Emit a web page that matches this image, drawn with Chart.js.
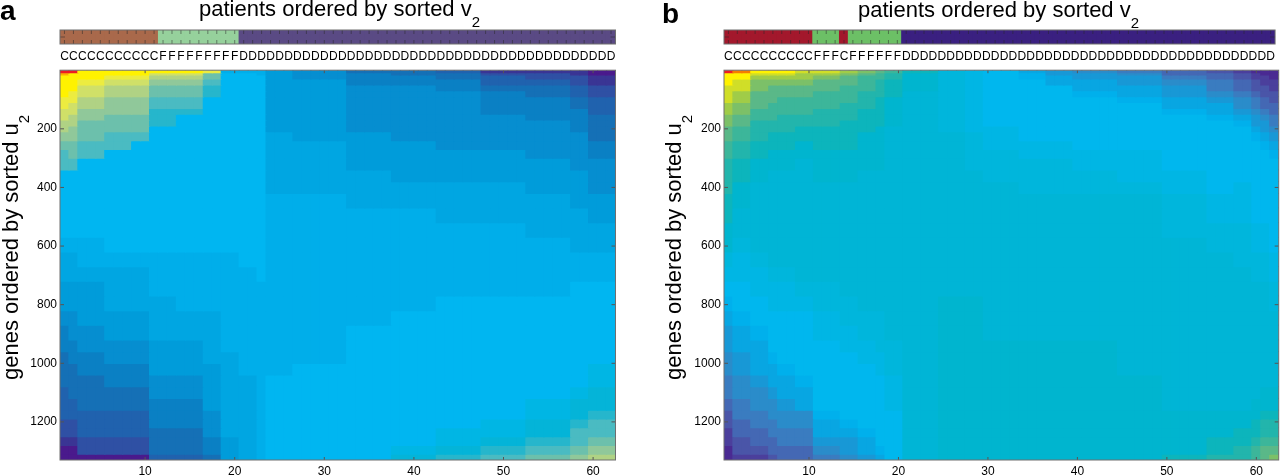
<!DOCTYPE html>
<html>
<head>
<meta charset="utf-8">
<style>
  html, body { margin: 0; padding: 0; background: #fff; width: 1280px; height: 476px; overflow: hidden; }
  canvas { position: absolute; }
  .panel-letter { position: absolute; font: bold 28px "Liberation Sans", sans-serif; color: #000; line-height: 28px; }
  .label { position: absolute; font: 22px/22px "Liberation Sans", sans-serif; color: #000; white-space: nowrap; }
  .label sub { font-size: 15px; line-height: 0; vertical-align: -11px; }
  .rotated { transform-origin: 0 0; transform: rotate(-90deg); }
</style>
<script src="https://cdn.jsdelivr.net/npm/chart.js@4"></script>
</head>
<body>
<canvas id="stripA" width="640" height="62" style="left:0;top:0"></canvas>
<canvas id="heatA" width="640" height="416" style="left:0;top:60px"></canvas>
<canvas id="stripB" width="616" height="62" style="left:664px;top:0"></canvas>
<canvas id="heatB" width="616" height="416" style="left:664px;top:60px"></canvas>
<div class="panel-letter" style="left:0px;top:-3px">a</div>
<div class="panel-letter" style="left:662px;top:0px">b</div>
<div class="label" style="left:199px;top:-2px">patients ordered by sorted v<sub>2</sub></div>
<div class="label" style="left:858px;top:-1px">patients ordered by sorted v<sub>2</sub></div>
<div class="label rotated" style="left:0px;top:380px">genes ordered by sorted u<sub>2</sub></div>
<div class="label rotated" style="left:663px;top:380px">genes ordered by sorted u<sub>2</sub></div>
<script>
// Patient class per column, as printed under each strip
const patientsA = 'CCCCCCCCCCCFFFFFFFFFDDDDDDDDDDDDDDDDDDDDDDDDDDDDDDDDDDDDDDDDDD';
const patientsB = 'CCCCCCCCCCFFFCFFFFFFDDDDDDDDDDDDDDDDDDDDDDDDDDDDDDDDDDDDDDDDDD';
const classColorsA = { C: '#a9694b', F: '#96d19c', D: '#5a4a84' };
const classColorsB = { C: '#a3182c', F: '#6cc066', D: '#3a2080' };

const yTicks = [200, 400, 600, 800, 1000, 1200];
const xTicks = [10, 20, 30, 40, 50, 60];
const geneCount = 1330;

// Height in genes of each heat row, top to bottom
const rowHeights = [
  8, 8, 14, 20, 20, 20, 20, 20, 20, 20,
  20, 20, 30, 30, 30, 40, 40, 40, 50, 50,
  50, 50, 50, 50, 50, 50, 50, 50, 40, 40,
  40, 40, 40, 40, 30, 30, 30, 30, 30, 20
];

// Colour levels, one character per level, low to high
const levelKeys = '0123456789ABCDEFGHIJKLMN';
const paletteA = [
  '#4a1a8c', '#3a3594', '#2f50a4', '#2062ae', '#1570b6', '#0a80c4', '#068ed0', '#009cda',
  '#00a6e2', '#00aeea', '#00b6f1', '#00b6e4', '#04b4d8', '#26b6cc', '#4abbc2', '#6cc0ac',
  '#90c89a', '#b0d284', '#d0e068', '#ecec40', '#fff200', '#fbb000', '#ed1c24', '#ed1c24'
];
const paletteB = [
  '#4a2a92', '#4b3f9c', '#4a55a8', '#4468b4', '#3a7cc0', '#2a8cca', '#1898d6', '#08a6e2',
  '#00b0ec', '#00b7ee', '#00b6e4', '#00b6dc', '#00b5d6', '#00b5cf', '#0cb5bc', '#22b5ac',
  '#3cb69a', '#5ab888', '#7cc068', '#a0cc48', '#d0de28', '#fff200', '#f57c00', '#ed1c24'
];

// How many patient columns each string below covers, left to right
const spansA = [1, 1, 3, 3, 2, 3, 3, 2, 2, 2, 1, 3, 6, 5, 5, 5, 5, 5, 2, 3];
// Level of every heat row, top to bottom
const levelsA = [
  'MLKKKKJJII HHGFEEAAAA A988776554 4433322100',
  'MKKKKJJIIH HGGFFEAAAA A988776655 4443322100',
  'KKKJIIHHGG FFFEEAAAAA A998777665 5444333220',
  'KKJIHHGGGF FFEEAAAAAA AA98887766 5544333220',
  'KKJIHHGGGF FFEAAAAAAA AA98887766 5544333220',
  'KIHGFFEEDD DAAAAAAAAA AA99988877 7665554443',
  'KIHGFFEEDA AAAAAAAAAA AA99998877 7665554443',
  'JFFEDDAAAA AAAAAAAAAA AA99998888 7777666554',
  '9AAAAAAAAA AAAAAAAAAA AA99999998 8888888777',
  '9AAAAAAAAA AAAAAAAAAA AAA9999999 9888888888',
  '99AAAAAAAA AAAAAAAAAA AAAA999999 9999999999',
  '7777777777 7788888899 9999999999 9AAAAAAAAA',
  '6667777777 7778888899 9999999999 AAAAAAAAAA',
  '4555666666 6677778889 9999999AAA AAAAAAAAAA',
  '4455666666 6667777889 999999AAAA AAAAAAAABC',
  '3445566666 6666777888 99999AAAAA AAAAAABBCD',
  '1233455556 6666777888 99999AAAAA AAAAABBCDE',
  '1223445555 6666677788 89999AAAAA AAABBCCDEF',
  '1122334455 5566667778 8899AAAAAA AABCCDEEFG',
  '0011223334 4445566677 8899AAAAAA BBCCDEEFGH'
];

const spansB = [1, 2, 2, 1, 2, 2, 3, 2, 2, 1, 2, 4, 3, 2, 4, 3, 3, 5, 5, 5, 3, 2, 1, 1, 1];
// Level of every heat row, top to bottom
const levelsB = [
  'NLLLKKKJJI IHHGGFFFEE DDBA987665 5443221100',
  'MLLKKJJIIH HGGFFEEDDC CBAA998776 6554433221',
  'LKJIIHHHGG FFFEEDDCCC CCBAA99877 7655443321',
  'LKJIHHHGGG FFEEDDCCCC CCCBAA9998 7765544332',
  'LKJIHHGGGF FFEEDDCCCC CCCBAA9999 8776554433',
  'KJJIHHGGGF FEEDDCCCCC CCCCBA9999 9877554433',
  'KJIHHGGGFF FEEEDDDCCC CCCCBBAA99 9999877654',
  'JIHHGGGFFF EEEEDDDCCC CCCCCBBAA9 9999987665',
  'IHGGGFFFEE EEDDDDCCCC CCCCCCBBAA 9999998776',
  'HGGFFFEEEE EDDDDDCCCC CCCCCCBBBA A999999987',
  'GFFEEEDDDD DCCCCCCCCC CCCCCCCCBB BAAA999999',
  'EDDDDCCCCC CCCCCCCCCC CCCCCCCCCC CCCCCCCCCC',
  'BBBBBBBBBB BBCCCCCCCC CCCCCDDDDD DDDDDDDDDD',
  'AAAAAAAAAA AABBBBCCCC CCCCCDDDDD DDDDDDDDDD',
  '9999999999 9AAABBBCCC CCCCCCCCDD DDDDDDDDDD',
  '7889999999 999AABBBCC CCCCCCCCDD DDDDDDDDDD',
  '6677999999 999AABBBCC CCCCCCCCDD DDDDDDDDDD',
  '5667789999 9999AABBCC CCCCCCCCDD DDDDDDDDDD',
  '4566778999 9999AAABCC CCCCCCCCCC CDDDDDDDDD',
  '3345667789 999999AABB BCCCCCCCCC CCCCDDDDDE',
  '2334456778 99999999AA BBCCCCCCCC CCCCDDDEEF',
  '1223345567 8999999AAA BBBCCCCCCC CCCCDDEEFF',
  '0112234456 6789999999 AABBCCCCCC CCCDDEEFGG',
  '0011223345 6678999999 AABBCCCCCC CCDDEFFGHH',
  '0001122334 4567899999 99AABBCCCC CCDDEFFGHI'
];

const FONT = '"Liberation Sans", sans-serif';
const columnLabels = Array.from(patientsA, (_, i) => String(i + 1));

// Box round the plot with MATLAB style ticks pointing inwards
const framePlugin = {
  id: 'frame',
  afterDatasetsDraw(chart, args, opts) {
    const { ctx, chartArea: a, scales } = chart;
    ctx.save();
    ctx.strokeStyle = opts.tickColor;
    ctx.lineWidth = 1;
    ctx.beginPath();
    opts.xValues.forEach(v => {
      const x = scales.x.getPixelForValue(v);
      ctx.moveTo(x, a.top); ctx.lineTo(x, a.top + opts.length);
      ctx.moveTo(x, a.bottom); ctx.lineTo(x, a.bottom - opts.length);
    });
    opts.yValues.forEach(v => {
      const y = scales.y.getPixelForValue(v);
      ctx.moveTo(a.left, y); ctx.lineTo(a.left + opts.length + 1, y);
      ctx.moveTo(a.right, y); ctx.lineTo(a.right - opts.length - 1, y);
    });
    ctx.stroke();
    ctx.strokeStyle = '#6f6f6f';
    ctx.strokeRect(a.left, a.top, a.right - a.left, a.bottom - a.top);
    ctx.restore();
  }
};

function drawStrip(id, patients, classColors, rightPad) {
  new Chart(document.getElementById(id), {
    type: 'bar',
    data: {
      labels: columnLabels,
      datasets: [{
        data: columnLabels.map(() => 1),
        backgroundColor: Array.from(patients, c => classColors[c]),
        borderWidth: 0,
        inflateAmount: 0.6,
        barPercentage: 1,
        categoryPercentage: 1
      }]
    },
    plugins: [framePlugin],
    options: {
      responsive: false,
      animation: false,
      layout: { padding: { left: 60, right: rightPad, top: 30, bottom: 0 } },
      plugins: {
        legend: { display: false },
        tooltip: { enabled: false },
        frame: { xValues: columnLabels, yValues: [0.5], length: 4, tickColor: 'rgba(40,40,40,0.5)' }
      },
      scales: {
        x: {
          grid: { display: false, drawTicks: false },
          border: { display: false },
          afterFit(scale) { scale.height = 18; },
          ticks: {
            autoSkip: false,
            maxRotation: 0,
            padding: 5,
            color: '#000',
            font: { family: FONT, size: 12 },
            callback: (v, i) => patients[i]
          }
        },
        y: { display: false, min: 0, max: 1 }
      }
    }
  });
}

function drawHeat(id, spans, levels, palette, rightPad) {
  // Expand the per-span strings to one level string per patient column
  const columns = [];
  spans.forEach((span, i) => {
    const clean = levels[i].replace(/ /g, '');
    for (let n = 0; n < span; n++) columns.push(clean);
  });

  const datasets = rowHeights.map((height, row) => ({
    data: columns.map(() => height),
    backgroundColor: columns.map(col => palette[levelKeys.indexOf(col[row])]),
    borderWidth: 0,
    inflateAmount: 0.6,
    barPercentage: 1,
    categoryPercentage: 1
  }));

  new Chart(document.getElementById(id), {
    type: 'bar',
    data: { labels: columnLabels, datasets },
    plugins: [framePlugin],
    options: {
      responsive: false,
      animation: false,
      layout: { padding: { left: 0, right: rightPad, top: 10, bottom: 0 } },
      plugins: {
        legend: { display: false },
        tooltip: { enabled: false },
        frame: { xValues: xTicks.map(String), yValues: yTicks, length: 3, tickColor: '#555' }
      },
      scales: {
        x: {
          stacked: true,
          grid: { display: false, drawTicks: false },
          border: { display: false },
          afterFit(scale) { scale.height = 16; },
          ticks: {
            autoSkip: false,
            maxRotation: 0,
            padding: 4,
            color: '#000',
            font: { family: FONT, size: 12 },
            callback: (v, i) => (xTicks.includes(i + 1) ? String(i + 1) : '')
          }
        },
        y: {
          stacked: true,
          reverse: true,
          min: 0,
          max: geneCount,
          grid: { display: false, drawTicks: false },
          border: { display: false },
          afterFit(scale) { scale.width = 60; },
          ticks: {
            stepSize: 200,
            padding: 3,
            color: '#000',
            font: { family: FONT, size: 12 },
            callback: v => (yTicks.includes(v) ? String(v) : '')
          }
        }
      }
    }
  });
}

drawStrip('stripA', patientsA, classColorsA, 24.5);
drawHeat('heatA', spansA, levelsA, paletteA, 24.5);
drawStrip('stripB', patientsB, classColorsB, 1.3);
drawHeat('heatB', spansB, levelsB, paletteB, 1.3);
</script>
</body>
</html>
